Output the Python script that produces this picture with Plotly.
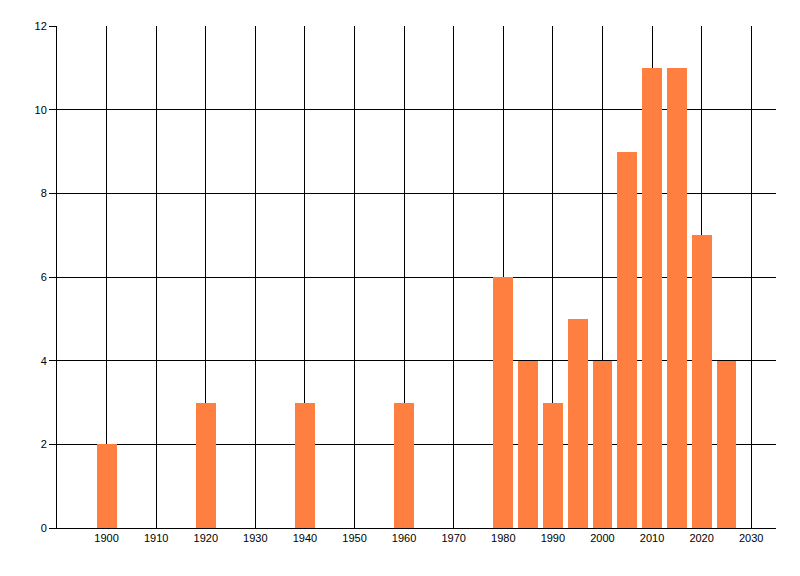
import plotly.graph_objects as go

# data
years = [1900, 1920, 1940, 1960, 1980, 1985, 1990, 1995, 2000, 2005, 2010, 2015, 2020, 2025]
counts = [2, 3, 3, 3, 6, 4, 3, 5, 4, 9, 11, 11, 7, 4]

x_ticks = list(range(1900, 2031, 10))
y_ticks = list(range(0, 13, 2))

BAR_COLOR = "#FF7F40"

fig = go.Figure()

fig.add_trace(go.Bar(
    x=years,
    y=counts,
    width=4,
    marker=dict(color=BAR_COLOR, line=dict(width=0)),
    showlegend=False
))

# margins compensate for the 8px page offset of the browser
fig.update_layout(
    width=800,
    height=576,
    margin=dict(l=49, r=32, t=18, b=56),
    paper_bgcolor="white",
    plot_bgcolor="white",
    font=dict(family="Liberation Sans, Arial, sans-serif", size=11, color="black"),
    bargap=0
)

fig.update_xaxes(
    range=[1890, 2035],
    tickmode="array",
    tickvals=x_ticks,
    ticktext=[str(v) for v in x_ticks],
    showgrid=True,
    gridcolor="black",
    gridwidth=1,
    showline=True,
    linecolor="black",
    linewidth=1,
    ticks="",
    zeroline=False
)

fig.update_yaxes(
    range=[0, 12],
    tickmode="array",
    tickvals=y_ticks,
    showgrid=True,
    gridcolor="black",
    gridwidth=1,
    showline=True,
    linecolor="black",
    linewidth=1,
    ticks="outside",
    ticklen=7,
    tickcolor="black",
    zeroline=False
)

fig.write_html("out.html")
